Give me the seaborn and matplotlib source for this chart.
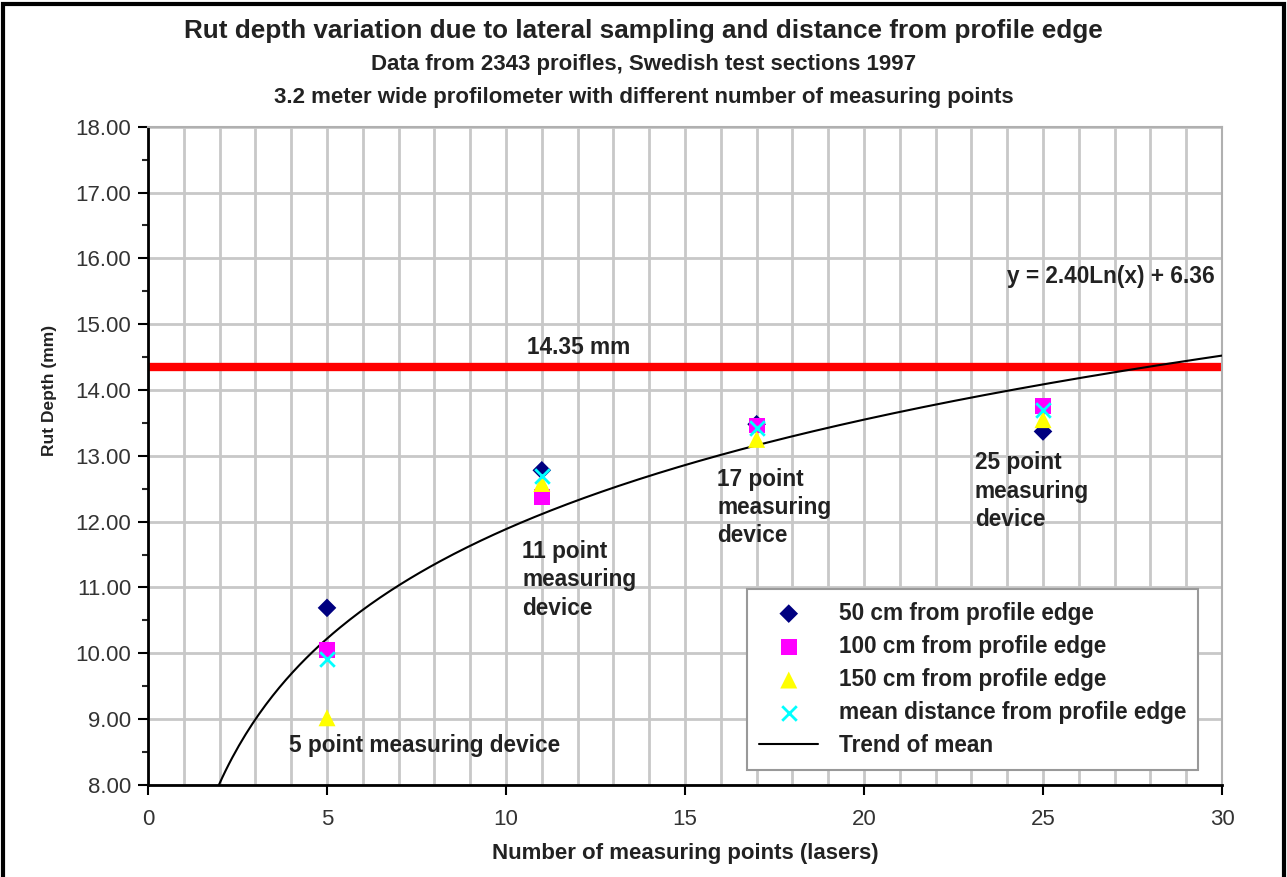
import numpy as np
import pandas as pd
import seaborn as sns
import matplotlib.pyplot as plt
from matplotlib.patches import Rectangle
from matplotlib.ticker import MultipleLocator

# measuring points (lasers)
points = [5, 11, 17, 25]
edge50 = [10.69, 12.78, 13.48, 13.37]
edge100 = [10.05, 12.38, 13.46, 13.76]
edge150 = [9.02, 12.58, 13.25, 13.55]
mean_dist = [9.91, 12.70, 13.42, 13.69]
series_names = ["50 cm from profile edge", "100 cm from profile edge",
                "150 cm from profile edge", "mean distance from profile edge"]
limit_value = 14.35
trend_a, trend_b = 2.40, 6.36

df = pd.DataFrame({
    "x": points * 4,
    "y": edge50 + edge100 + edge150 + mean_dist,
    "series": [s for s in series_names for _ in points],
})

sns.set_style("white")
plt.rcParams['font.family'] = ['Liberation Sans', 'DejaVu Sans']

fig = plt.figure(figsize=(12.87, 8.77), dpi=100)
ax = fig.add_axes([0.115, 0.105, 0.8345, 0.7505])

# red limit line
ax.axhline(limit_value, color="#ff0000", lw=6, zorder=2, solid_capstyle="round")

# trend line
tx = np.linspace(np.exp((8 - trend_b) / trend_a), 30, 300)
trend = pd.DataFrame({"x": tx, "y": trend_a * np.log(tx) + trend_b})
sns.lineplot(data=trend, x="x", y="y", color="black", lw=1.5, ax=ax, zorder=3,
             label="Trend of mean")

palette = {series_names[0]: "#000080", series_names[1]: "#ff00ff",
           series_names[2]: "#ffff00", series_names[3]: "#00ffff"}
markers = {series_names[0]: "D", series_names[1]: "s",
           series_names[2]: "^", series_names[3]: "X"}
sizes = {series_names[0]: 90, series_names[1]: 130,
         series_names[2]: 150, series_names[3]: 130}
for name in series_names:
    sub = df[df["series"] == name]
    if name == series_names[3]:
        ax.scatter(sub["x"], sub["y"], marker="x", color=palette[name],
                   s=110, linewidths=2, zorder=5, label=name)
    else:
        sns.scatterplot(data=sub, x="x", y="y", marker=markers[name],
                        color=palette[name], s=sizes[name], edgecolor="none",
                        ax=ax, zorder=4, label=name)

ax.set_xlim(0, 30)
ax.set_ylim(8, 18)
ax.xaxis.set_major_locator(MultipleLocator(5))
ax.xaxis.set_minor_locator(MultipleLocator(1))
ax.yaxis.set_major_locator(MultipleLocator(1))
ax.yaxis.set_minor_locator(MultipleLocator(0.5))
ax.set_yticklabels([f"{v:.2f}" for v in ax.get_yticks()])
ax.grid(True, which="major", axis="y", color="#c8c8c8", lw=2)
ax.grid(True, which="both", axis="x", color="#c8c8c8", lw=2)
ax.tick_params(axis="both", which="major", direction="out", length=7, width=1.5,
               labelsize=16, colors="black", labelcolor="#333333", left=True, bottom=True)
ax.tick_params(axis="x", which="major", pad=10)
ax.tick_params(axis="y", which="major", pad=5)
ax.tick_params(axis="y", which="minor", direction="out", length=4, width=1.5, left=True)
ax.tick_params(axis="x", which="minor", length=0)
for side in ["left", "bottom"]:
    ax.spines[side].set_color("black")
    ax.spines[side].set_linewidth(2)
for side in ["top", "right"]:
    ax.spines[side].set_color("#b0b0b0")
    ax.spines[side].set_linewidth(1.5)

ax.set_xlabel("Number of measuring points (lasers)", fontsize=16, fontweight="bold",
              color="#222222", labelpad=10)
ax.set_ylabel("Rut Depth (mm)", fontsize=12.5, fontweight="bold", color="#222222")
ax.yaxis.set_label_coords(-0.085, 0.6)

fig.text(0.5, 0.965, "Rut depth variation due to lateral sampling and distance from profile edge",
         ha="center", va="center", fontsize=18.8, fontweight="bold", color="#222222")
fig.text(0.5, 0.927, "Data from 2343 proifles, Swedish test sections 1997",
         ha="center", va="center", fontsize=16, fontweight="bold", color="#222222")
fig.text(0.5, 0.889, "3.2 meter wide profilometer with different number of measuring points",
         ha="center", va="center", fontsize=16, fontweight="bold", color="#222222")

ann = dict(fontsize=16.3, fontweight="bold", color="#222222", linespacing=1.3)
ax.text(10.6, 14.65, "14.35 mm", ha="left", va="center", **ann)
ax.text(29.8, 15.72, "y = 2.40Ln(x) + 6.36", ha="right", va="center", **ann)
ax.text(3.95, 8.6, "5 point measuring device", ha="left", va="center", **ann)
ax.text(10.45, 11.72, "11 point\nmeasuring\ndevice", ha="left", va="top", **ann)
ax.text(15.9, 12.82, "17 point\nmeasuring\ndevice", ha="left", va="top", **ann)
ax.text(23.1, 13.07, "25 point\nmeasuring\ndevice", ha="left", va="top", **ann)

handles, labels = ax.get_legend_handles_labels()
order = [labels.index(n) for n in series_names + ["Trend of mean"]]
leg = ax.legend([handles[i] for i in order], [labels[i] for i in order],
                loc="lower right", bbox_to_anchor=(0.978, 0.023), borderaxespad=0,
                frameon=True, fancybox=False, edgecolor="#999999", framealpha=1,
                handlelength=2.6, labelspacing=0.45, borderpad=0.55, handletextpad=0.9,
                prop={"weight": "bold", "size": 16.3})
leg.get_frame().set_linewidth(1.5)
for t in leg.get_texts():
    t.set_color("#222222")

fig.add_artist(Rectangle((0.002, -0.01), 0.996, 1.005, transform=fig.transFigure,
                         fill=False, edgecolor="black", lw=3))

fig.savefig("out.png", dpi=100)
